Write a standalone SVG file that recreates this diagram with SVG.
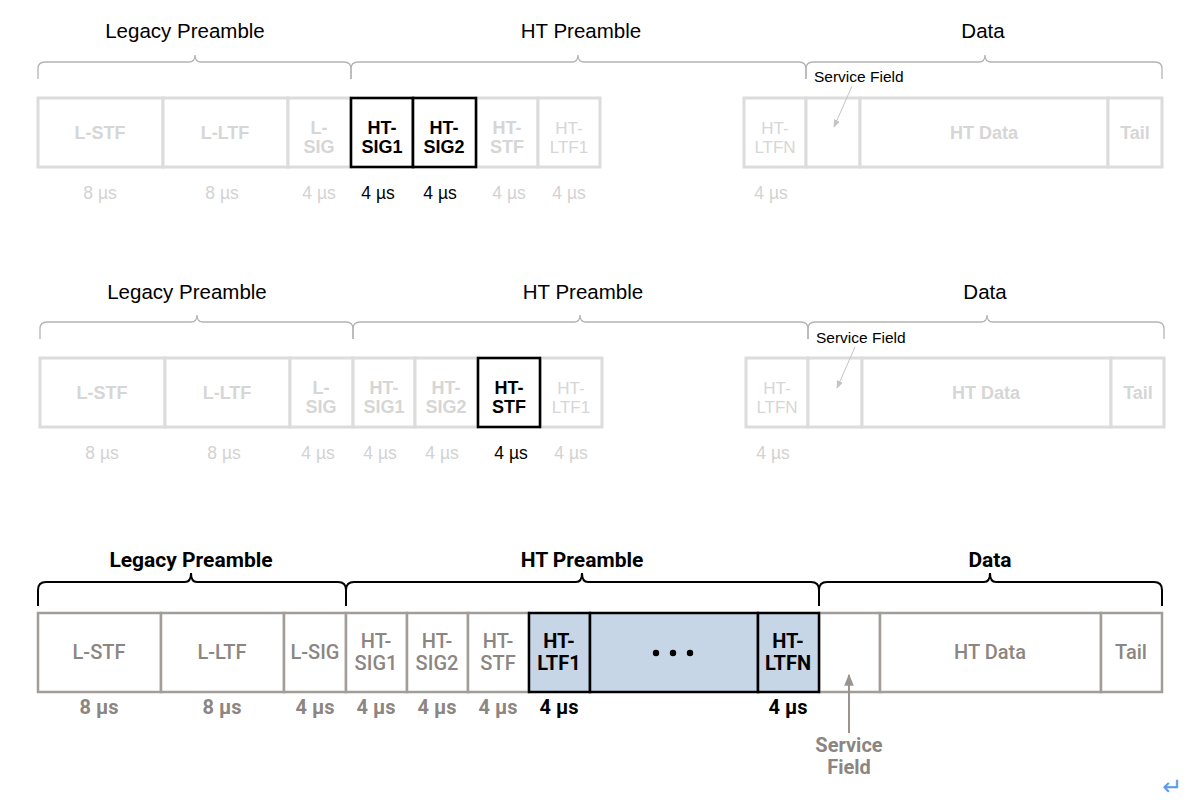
<svg xmlns="http://www.w3.org/2000/svg" width="1200" height="800" viewBox="0 0 1200 800">
<style>
.bg{fill:#ffffff}
.fb{fill:#ffffff;stroke:#dcdcdc;stroke-width:3}
.hb{fill:#ffffff;stroke:#000000;stroke-width:2.6}
.gb{fill:#ffffff;stroke:#a39d99;stroke-width:2.5}
.bb{fill:#c6d6e6;stroke:#000000;stroke-width:2.5}
.h1{font-family:"Liberation Sans",Arial,sans-serif;font-size:20.5px;fill:#000;text-anchor:middle}
.fl{font-family:"Liberation Sans",Arial,sans-serif;font-size:18px;font-weight:bold;fill:#d6d6d6;text-anchor:middle}
.fn{font-family:"Liberation Sans",Arial,sans-serif;font-size:17px;fill:#d6d6d6;text-anchor:middle}
.hl{font-family:"Liberation Sans",Arial,sans-serif;font-size:18px;font-weight:bold;fill:#000;text-anchor:middle}
.fd{font-family:"Liberation Sans",Arial,sans-serif;font-size:17.5px;fill:#d2d2d2;text-anchor:middle}
.hd{font-family:"Liberation Sans",Arial,sans-serif;font-size:17.5px;fill:#000;text-anchor:middle}
.sf{font-family:"Liberation Sans",Arial,sans-serif;font-size:15.5px;fill:#000}
.br1{fill:none;stroke:#b4b4b4;stroke-width:1.3}
.br3{fill:none;stroke:#000;stroke-width:2}
.h3{font-family:Roboto,"Liberation Sans",sans-serif;font-size:21px;font-weight:bold;fill:#000;text-anchor:middle}
.gl{font-family:Roboto,"Liberation Sans",sans-serif;font-size:20px;font-weight:500;fill:#8c8682;text-anchor:middle}
.kl{font-family:Roboto,"Liberation Sans",sans-serif;font-size:20px;font-weight:bold;fill:#000;text-anchor:middle}
.gd{font-family:Roboto,"Liberation Sans",sans-serif;font-size:20px;font-weight:bold;fill:#8c8682;text-anchor:middle}
.kd{font-family:Roboto,"Liberation Sans",sans-serif;font-size:20px;font-weight:bold;fill:#000;text-anchor:middle}
.sa{fill:none;stroke:#c4c4c4;stroke-width:1}
.sb{fill:none;stroke:#9a9490;stroke-width:2}
</style>
<defs>
<marker id="ahL" viewBox="0 0 10 10" refX="9" refY="5" markerWidth="8" markerHeight="8" markerUnits="userSpaceOnUse" orient="auto"><path d="M0,1 L10,5 L0,9 Z" fill="#c4c4c4"/></marker>
<marker id="ahG" viewBox="0 0 10 10" refX="9" refY="5" markerWidth="12" markerHeight="12" markerUnits="userSpaceOnUse" orient="auto"><path d="M0,1 L10,5 L0,9 Z" fill="#9a9490"/></marker>
</defs>
<rect class="bg" x="0" y="0" width="1200" height="800"/>

<!-- ============ ROW 1 ============ -->
<g id="row1-headers">
<text class="h1" x="185" y="38">Legacy Preamble</text>
<text class="h1" x="581" y="38">HT Preamble</text>
<text class="h1" x="983" y="38">Data</text>
</g>
<g id="row1-braces">
<path class="br1" d="M38,79 V69 Q38,62 45,62 H189 Q195,62 195,55 Q195,62 201,62 H344 Q351,62 351,69 V79"/>
<path class="br1" d="M351,79 V69 Q351,62 358,62 H572 Q578,62 578,55 Q578,62 584,62 H799 Q806,62 806,69 V79"/>
<path class="br1" d="M806,79 V69 Q806,62 813,62 H979 Q985,62 985,55 Q985,62 991,62 H1155 Q1162,62 1162,69 V79"/>
</g>
<g id="r1-lstf"><rect class="fb" x="38" y="98" width="125" height="69"/><text class="fl" x="100" y="139">L-STF</text><text class="fd" x="100" y="199">8 µs</text></g>
<g id="r1-lltf"><rect class="fb" x="163" y="98" width="125" height="69"/><text class="fl" x="225" y="139">L-LTF</text><text class="fd" x="222" y="199">8 µs</text></g>
<g id="r1-lsig"><rect class="fb" x="288" y="98" width="63" height="69"/><text class="fl" x="319" y="134">L-</text><text class="fl" x="319" y="153">SIG</text><text class="fd" x="319" y="199">4 µs</text></g>
<g id="r1-htstf"><rect class="fb" x="476" y="98" width="62" height="69"/><text class="fl" x="507" y="134">HT-</text><text class="fl" x="507" y="153">STF</text><text class="fd" x="509" y="199">4 µs</text></g>
<g id="r1-htltf1"><rect class="fb" x="538" y="98" width="62" height="69"/><text class="fn" x="569" y="134">HT-</text><text class="fn" x="569" y="153">LTF1</text><text class="fd" x="569" y="199">4 µs</text></g>
<g id="r1-htsig1"><rect class="hb" x="351" y="98" width="62" height="69"/><text class="hl" x="382" y="134">HT-</text><text class="hl" x="382" y="153">SIG1</text><text class="hd" x="378" y="199">4 µs</text></g>
<g id="r1-htsig2"><rect class="hb" x="413" y="98" width="63" height="69"/><text class="hl" x="444" y="134">HT-</text><text class="hl" x="444" y="153">SIG2</text><text class="hd" x="440" y="199">4 µs</text></g>
<g id="r1-htltfn"><rect class="fb" x="744" y="98" width="62" height="69"/><text class="fn" x="775" y="134">HT-</text><text class="fn" x="775" y="153">LTFN</text><text class="fd" x="771" y="199">4 µs</text></g>
<g id="r1-service"><rect class="fb" x="806" y="98" width="54" height="69"/></g>
<g id="r1-htdata"><rect class="fb" x="860" y="98" width="248" height="69"/><text class="fl" x="984" y="139">HT Data</text></g>
<g id="r1-tail"><rect class="fb" x="1108" y="98" width="54" height="69"/><text class="fl" x="1135" y="139">Tail</text></g>
<g id="r1-servicelabel"><text class="sf" x="814" y="82">Service Field</text></g>

<!-- ============ ROW 2 ============ -->
<g id="row2-headers">
<text class="h1" x="187" y="299">Legacy Preamble</text>
<text class="h1" x="583" y="299">HT Preamble</text>
<text class="h1" x="985" y="299">Data</text>
</g>
<g id="row2-braces">
<path class="br1" d="M40,339 V329 Q40,322 47,322 H191 Q197,322 197,315 Q197,322 203,322 H346 Q353,322 353,329 V339"/>
<path class="br1" d="M353,339 V329 Q353,322 360,322 H574 Q580,322 580,315 Q580,322 586,322 H801 Q808,322 808,329 V339"/>
<path class="br1" d="M808,339 V329 Q808,322 815,322 H981 Q987,322 987,315 Q987,322 993,322 H1157 Q1164,322 1164,329 V339"/>
</g>
<g id="r2-lstf"><rect class="fb" x="40" y="358" width="125" height="69"/><text class="fl" x="102" y="399">L-STF</text><text class="fd" x="102" y="459">8 µs</text></g>
<g id="r2-lltf"><rect class="fb" x="165" y="358" width="125" height="69"/><text class="fl" x="227" y="399">L-LTF</text><text class="fd" x="224" y="459">8 µs</text></g>
<g id="r2-lsig"><rect class="fb" x="290" y="358" width="63" height="69"/><text class="fl" x="321" y="394">L-</text><text class="fl" x="321" y="413">SIG</text><text class="fd" x="318" y="459">4 µs</text></g>
<g id="r2-htsig1"><rect class="fb" x="353" y="358" width="62" height="69"/><text class="fl" x="384" y="394">HT-</text><text class="fl" x="384" y="413">SIG1</text><text class="fd" x="380" y="459">4 µs</text></g>
<g id="r2-htsig2"><rect class="fb" x="415" y="358" width="63" height="69"/><text class="fl" x="446" y="394">HT-</text><text class="fl" x="446" y="413">SIG2</text><text class="fd" x="442" y="459">4 µs</text></g>
<g id="r2-htltf1"><rect class="fb" x="540" y="358" width="62" height="69"/><text class="fn" x="571" y="394">HT-</text><text class="fn" x="571" y="413">LTF1</text><text class="fd" x="571" y="459">4 µs</text></g>
<g id="r2-htstf"><rect class="hb" x="478" y="358" width="62" height="69"/><text class="hl" x="509" y="394">HT-</text><text class="hl" x="509" y="413">STF</text><text class="hd" x="511" y="459">4 µs</text></g>
<g id="r2-htltfn"><rect class="fb" x="746" y="358" width="62" height="69"/><text class="fn" x="777" y="394">HT-</text><text class="fn" x="777" y="413">LTFN</text><text class="fd" x="773" y="459">4 µs</text></g>
<g id="r2-service"><rect class="fb" x="808" y="358" width="54" height="69"/></g>
<g id="r2-htdata"><rect class="fb" x="862" y="358" width="249" height="69"/><text class="fl" x="986" y="399">HT Data</text></g>
<g id="r2-tail"><rect class="fb" x="1111" y="358" width="53" height="69"/><text class="fl" x="1138" y="399">Tail</text></g>
<g id="r2-servicelabel"><text class="sf" x="816" y="343">Service Field</text></g>

<!-- ============ ROW 3 ============ -->
<g id="row3-headers">
<text class="h3" x="191" y="567">Legacy Preamble</text>
<text class="h3" x="582" y="567">HT Preamble</text>
<text class="h3" x="990" y="567">Data</text>
</g>
<g id="row3-braces">
<path class="br3" d="M38,606 V590 Q38,582 46,582 H185 Q191,582 191,573 Q191,582 197,582 H338 Q346,582 346,590 V606"/>
<path class="br3" d="M346,606 V590 Q346,582 354,582 H576 Q582,582 582,573 Q582,582 588,582 H811 Q819,582 819,590 V606"/>
<path class="br3" d="M819,606 V590 Q819,582 827,582 H984 Q990,582 990,573 Q990,582 996,582 H1154 Q1162,582 1162,590 V606"/>
</g>
<g id="r3-lstf"><rect class="gb" x="38" y="613" width="123" height="79"/><text class="gl" x="99" y="659">L-STF</text><text class="gd" x="99" y="714">8 µs</text></g>
<g id="r3-lltf"><rect class="gb" x="161" y="613" width="123" height="79"/><text class="gl" x="222" y="659">L-LTF</text><text class="gd" x="222" y="714">8 µs</text></g>
<g id="r3-lsig"><rect class="gb" x="284" y="613" width="62" height="79"/><text class="gl" x="315" y="659">L-SIG</text><text class="gd" x="315" y="714">4 µs</text></g>
<g id="r3-htsig1"><rect class="gb" x="346" y="613" width="61" height="79"/><text class="gl" x="376" y="648">HT-</text><text class="gl" x="376" y="670">SIG1</text><text class="gd" x="376" y="714">4 µs</text></g>
<g id="r3-htsig2"><rect class="gb" x="407" y="613" width="61" height="79"/><text class="gl" x="437" y="648">HT-</text><text class="gl" x="437" y="670">SIG2</text><text class="gd" x="437" y="714">4 µs</text></g>
<g id="r3-htstf"><rect class="gb" x="468" y="613" width="61" height="79"/><text class="gl" x="498" y="648">HT-</text><text class="gl" x="498" y="670">STF</text><text class="gd" x="498" y="714">4 µs</text></g>
<g id="r3-service"><rect class="gb" x="819" y="613" width="61" height="79"/></g>
<g id="r3-htdata"><rect class="gb" x="880" y="613" width="221" height="79"/><text class="gl" x="990" y="659">HT Data</text></g>
<g id="r3-tail"><rect class="gb" x="1101" y="613" width="61" height="79"/><text class="gl" x="1131" y="659">Tail</text></g>
<g id="r3-htltf1"><rect class="bb" x="529" y="613" width="61" height="79"/><text class="kl" x="559" y="648">HT-</text><text class="kl" x="559" y="670">LTF1</text><text class="kd" x="559" y="714">4 µs</text></g>
<g id="r3-dots"><rect class="bb" x="590" y="613" width="168" height="79"/><circle cx="656" cy="653" r="3.2" fill="#000"/><circle cx="673" cy="653" r="3.2" fill="#000"/><circle cx="690" cy="653" r="3.2" fill="#000"/></g>
<g id="r3-htltfn"><rect class="bb" x="758" y="613" width="61" height="79"/><text class="kl" x="788" y="648">HT-</text><text class="kl" x="788" y="670">LTFN</text><text class="kd" x="788" y="714">4 µs</text></g>
<g id="r3-servicelabel"><text class="gd" x="849" y="752">Service</text><text class="gd" x="849" y="774">Field</text></g>

<!-- connectors -->
<g id="connectors">
<line class="sa" x1="852" y1="86" x2="834" y2="127" marker-end="url(#ahL)"/>
<line class="sa" x1="855" y1="347" x2="837" y2="388" marker-end="url(#ahL)"/>
<line class="sb" x1="849" y1="733" x2="849" y2="675" marker-end="url(#ahG)"/>
</g>

<g id="return-mark"><text x="1172" y="795" font-family="'DejaVu Sans',sans-serif" font-size="24" fill="#5a9be6" text-anchor="middle">↵</text></g>
</svg>
